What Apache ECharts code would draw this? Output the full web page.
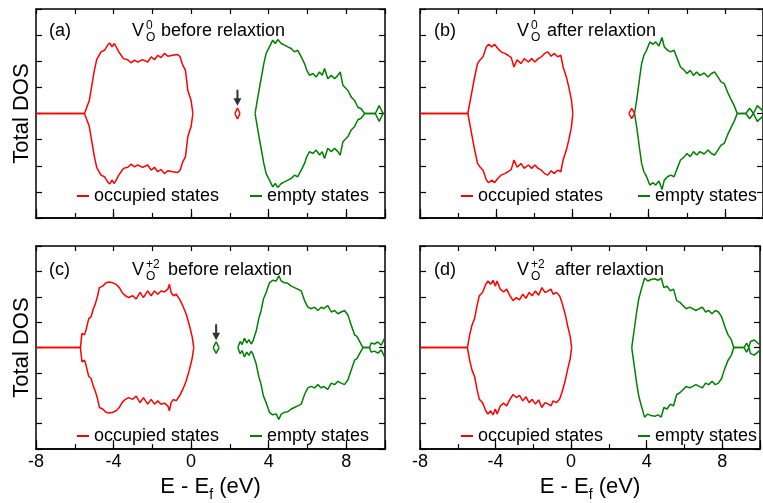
<!DOCTYPE html>
<html>
<head>
<meta charset="utf-8">
<script src="https://cdn.jsdelivr.net/npm/echarts@6/dist/echarts.min.js"></script>
<style>
html, body { margin: 0; padding: 0; background: #fff; }
#main { width: 763px; height: 503px; }
</style>
</head>
<body>
<div id="main"></div>
<script>
// energies (eV) and DOS; spin-down is drawn as the mirror of spin-up
var occA_E = [-8, -5.5, -5.25, -4.99, -4.87, -4.65, -4.47, -4.3, -4.2, -4.08, -3.96, -3.87, -3.73, -3.61, -3.49, -3.27, -3.1, -2.92, -2.75, -2.5, -2.24, -2.06, -1.89, -1.72, -1.55, -1.38, -1.2, -0.95, -0.69, -0.57, -0.43, -0.29, -0.17, -0.09, 0.0, 0.09];
var occA_D = [0, 0, 0.5, 1.65, 2.06, 2.36, 2.42, 2.62, 2.7, 2.55, 2.68, 2.74, 2.36, 2.23, 2.1, 2.06, 1.94, 2.04, 1.97, 2.06, 1.97, 2.17, 2.06, 2.23, 2.14, 2.3, 2.19, 2.23, 2.26, 2.17, 1.85, 1.65, 0.88, 0.82, 0.5, 0];
var empA_E = [3.3, 3.44, 3.61, 3.75, 3.87, 4.04, 4.21, 4.34, 4.47, 4.65, 4.82, 4.99, 5.16, 5.33, 5.5, 5.68, 5.85, 5.97, 6.11, 6.28, 6.45, 6.62, 6.76, 6.88, 7.05, 7.23, 7.4, 7.57, 7.69, 7.83, 8.09, 8.26, 8.43, 8.6, 8.77, 8.95, 9.5, 9.7, 9.9, 10];
var empA_D = [0, 0.63, 1.33, 1.91, 2.3, 2.55, 2.81, 2.68, 2.83, 2.68, 2.62, 2.55, 2.49, 2.36, 2.42, 2.17, 1.91, 1.65, 1.46, 1.53, 1.4, 1.59, 1.46, 1.72, 1.33, 1.46, 1.33, 1.46, 1.59, 1.08, 0.88, 0.63, 0.5, 0.24, 0.18, 0, 0, 0.3, 0, 0];
var gapA_E = [2.26, 2.39, 2.52];
var gapA_D = [0, 0.21, 0];

var occB_E = [-8, -5.49, -5.28, -5.15, -4.98, -4.86, -4.69, -4.52, -4.4, -4.23, -4.09, -3.92, -3.75, -3.55, -3.38, -3.21, -3.07, -2.9, -2.7, -2.53, -2.31, -2.14, -1.97, -1.8, -1.63, -1.46, -1.29, -1.12, -0.95, -0.78, -0.61, -0.49, -0.32, -0.19, -0.05, 0.02];
var occB_D = [0, 0, 0.82, 1.33, 1.91, 2.04, 2.17, 2.55, 2.65, 2.55, 2.65, 2.49, 2.36, 2.3, 2.23, 2.14, 1.78, 2.06, 1.91, 2.1, 1.97, 2.1, 1.97, 2.1, 2.17, 2.3, 2.36, 2.19, 2.3, 2.17, 2.23, 1.78, 1.4, 1.01, 0.5, 0];
var empB_E = [3.26, 3.38, 3.52, 3.63, 3.75, 3.89, 4.06, 4.23, 4.37, 4.54, 4.7, 4.82, 4.99, 5.16, 5.33, 5.5, 5.67, 5.84, 6.01, 6.18, 6.35, 6.52, 6.69, 6.91, 7.12, 7.29, 7.46, 7.63, 7.8, 7.97, 8.14, 8.31, 8.48, 8.65, 9.1, 9.3, 9.5, 9.7, 10];
var empB_D = [0, 0.56, 1.33, 1.91, 2.23, 2.42, 2.74, 2.65, 2.74, 2.58, 2.91, 2.55, 2.42, 2.36, 2.42, 2.1, 1.78, 1.68, 1.53, 1.65, 1.46, 1.59, 1.46, 1.55, 1.4, 1.53, 1.59, 1.4, 1.21, 1.14, 0.82, 0.56, 0.31, 0, 0, 0.2, 0, 0.3, 0.1];
var gapB_E = [2.96, 3.11, 3.26];
var gapB_D = [0, 0.2, 0];

var occC_E = [-8, -5.71, -5.63, -5.5, -5.42, -5.28, -5.16, -5.04, -4.94, -4.82, -4.73, -4.56, -4.39, -4.22, -4.04, -3.87, -3.7, -3.56, -3.39, -3.22, -3.01, -2.84, -2.63, -2.46, -2.24, -2.06, -1.89, -1.72, -1.55, -1.38, -1.2, -1.12, -1.03, -0.91, -0.77, -0.6, -0.43, -0.26, -0.09, 0.05, 0.14];
var occC_D = [0, 0, 0.56, 0.5, 0.69, 1.14, 1.21, 1.53, 1.72, 2.04, 2.36, 2.42, 2.55, 2.58, 2.55, 2.49, 2.36, 2.17, 2.04, 1.97, 2.04, 1.91, 2.17, 1.97, 2.23, 2.04, 2.23, 2.1, 2.23, 2.19, 2.3, 2.49, 2.17, 2.04, 2.1, 1.91, 1.65, 1.33, 0.88, 0.44, 0];
var empC_E = [2.41, 2.53, 2.63, 2.75, 2.87, 2.98, 3.1, 3.18, 3.35, 3.49, 3.61, 3.73, 3.87, 4.04, 4.21, 4.39, 4.52, 4.65, 4.82, 4.99, 5.16, 5.33, 5.5, 5.68, 5.85, 6.02, 6.19, 6.37, 6.54, 6.71, 6.83, 7.05, 7.23, 7.4, 7.57, 7.74, 7.91, 8.09, 8.26, 8.43, 8.55, 8.69, 8.86, 9.2, 9.29, 9.46, 9.63, 9.81, 9.98];
var empC_D = [0, 0.24, 0.12, 0.37, 0.18, 0.31, 0.14, 0.24, 0.63, 1.14, 1.46, 1.91, 2.17, 2.55, 2.65, 2.62, 2.83, 2.62, 2.55, 2.53, 2.42, 2.36, 2.3, 2.23, 1.85, 1.59, 1.53, 1.59, 1.46, 1.59, 1.53, 1.65, 1.4, 1.46, 1.33, 1.4, 1.46, 1.27, 0.88, 0.5, 0.44, 0.24, 0, 0, 0.18, 0.14, 0.22, 0.09, 0.37];
var gapC_E = [1.14, 1.29, 1.44];
var gapC_D = [0, 0.23, 0];

var occD_E = [-8, -5.49, -5.37, -5.25, -5.11, -4.98, -4.86, -4.69, -4.52, -4.4, -4.26, -4.13, -4.01, -3.92, -3.75, -3.58, -3.41, -3.24, -3.07, -2.9, -2.73, -2.56, -2.39, -2.22, -2.06, -1.89, -1.72, -1.55, -1.38, -1.21, -1.07, -0.95, -0.78, -0.61, -0.49, -0.32, -0.19, -0.05, 0.03];
var occD_D = [0, 0, 0.5, 0.88, 1.14, 1.65, 2.04, 2.17, 2.49, 2.62, 2.49, 2.65, 2.42, 2.62, 2.3, 2.19, 2.3, 2.04, 1.85, 1.97, 1.88, 2.1, 1.94, 2.17, 2.04, 2.23, 2.06, 2.36, 2.17, 2.23, 2.3, 2.1, 2.17, 2.04, 1.78, 1.33, 0.88, 0.44, 0];
var empD_E = [3.21, 3.35, 3.47, 3.58, 3.72, 3.89, 4.06, 4.23, 4.43, 4.6, 4.77, 4.91, 5.08, 5.25, 5.42, 5.59, 5.76, 5.93, 6.1, 6.27, 6.44, 6.61, 6.78, 6.95, 7.12, 7.29, 7.46, 7.63, 7.8, 7.97, 8.14, 8.31, 8.48, 8.61, 9.16, 9.29, 9.41, 9.5, 9.7, 10];
var empD_D = [0, 0.76, 1.4, 1.91, 2.3, 2.74, 2.62, 2.68, 2.71, 2.65, 2.74, 2.36, 2.42, 2.23, 2.3, 1.85, 1.78, 1.65, 1.53, 1.59, 1.53, 1.46, 1.53, 1.59, 1.4, 1.46, 1.33, 1.46, 1.4, 1.21, 0.82, 0.5, 0.31, 0, 0, 0.18, 0, 0.24, 0.3, 0.1];

// arrows marking the gap states: [energy, DOS]
var arrowA = [[2.39, 0.6]];
var arrowC = [[1.29, 0.6]];

var xTicks = [-8, -4, 0, 4, 8];

var RED = '#ff0000', GREEN = '#008000';
var FONT = 'Liberation Sans, Arial, Helvetica, sans-serif';

var grids = [
    { left: 36, top: 9, width: 349, height: 209 },
    { left: 420, top: 9, width: 353, height: 209 },
    { left: 36, top: 246, width: 349, height: 209 },
    { left: 420, top: 246, width: 353, height: 209 }
];

function pairs(E, D, sign) {
    return E.map(function (e, i) { return [e, sign * D[i]]; });
}

var axisLine = { show: true, onZero: false, lineStyle: { color: '#000', width: 1.5 } };

var xAxes = [], yAxes = [];
grids.forEach(function (g, i) {
    var bottomRow = i >= 2;
    // minor ticks every 2 eV along the bottom
    xAxes.push({ gridIndex: i, type: 'value', min: -8, max: 10, interval: 2, position: 'bottom',
        axisLine: axisLine, axisTick: { inside: true, length: 5, lineStyle: { color: '#000', width: 1.2 } },
        axisLabel: { show: false }, splitLine: { show: false } });
    // major ticks + labels every 4 eV
    xAxes.push({ gridIndex: i, type: 'value', min: -8, max: 10, interval: 4, position: 'bottom',
        axisLine: axisLine, axisTick: { inside: true, length: 9, lineStyle: { color: '#000', width: 1.2 } },
        axisLabel: { show: bottomRow, fontSize: 18, color: '#000', fontFamily: FONT, margin: 4,
            formatter: function (v) { return xTicks.indexOf(v) >= 0 ? String(v) : ''; } },
        splitLine: { show: false },
        name: bottomRow ? 'E - E{sub|f} (eV)' : '', nameLocation: 'middle', nameGap: 13,
        nameTextStyle: { fontSize: 22, color: '#000', fontFamily: FONT, lineHeight: 30,
            rich: { sub: { fontSize: 14, lineHeight: 14, verticalAlign: 'bottom', color: '#000', fontFamily: FONT } } } });
    // top frame
    xAxes.push({ gridIndex: i, type: 'value', min: -8, max: 10, interval: 2, position: 'top',
        axisLine: axisLine, axisTick: { inside: true, length: 5, lineStyle: { color: '#000', width: 1.2 } },
        axisLabel: { show: false }, splitLine: { show: false } });

    var leftCol = i % 2 === 0;
    yAxes.push({ gridIndex: i, type: 'value', min: -4, max: 4, interval: 1, position: 'left',
        axisLine: axisLine, axisTick: { inside: true, length: 6, lineStyle: { color: '#000', width: 1.2 } },
        axisLabel: { show: false }, splitLine: { show: false },
        name: leftCol ? 'Total DOS' : '', nameLocation: 'middle', nameGap: 3,
        nameTextStyle: { fontSize: 22, color: '#000', fontFamily: FONT } });
    yAxes.push({ gridIndex: i, type: 'value', min: -4, max: 4, interval: 1, position: 'right',
        axisLine: axisLine, axisTick: { inside: true, length: 6, lineStyle: { color: '#000', width: 1.2 } },
        axisLabel: { show: false }, splitLine: { show: false } });
});

var series = [];
function addBand(i, name, E, D, color) {
    [1, -1].forEach(function (s) {
        series.push({ name: name, type: 'line', xAxisIndex: i * 3, yAxisIndex: i * 2,
            data: pairs(E, D, s), showSymbol: false, symbol: 'none',
            lineStyle: { color: color, width: 1.5 }, itemStyle: { color: color } });
    });
}
function addArrow(i, data) {
    series.push({ name: 'gap state', type: 'scatter', xAxisIndex: i * 3, yAxisIndex: i * 2,
        data: data, symbol: 'path://M2.6,0 L4.4,0 L4.4,8 L7,8 L3.5,15 L0,8 L2.6,8 Z',
        symbolSize: [8, 16], itemStyle: { color: '#000' } });
}

addBand(0, 'occupied states', occA_E, occA_D, RED);
addBand(0, 'empty states', empA_E, empA_D, GREEN);
addBand(0, 'gap state', gapA_E, gapA_D, RED);
addArrow(0, arrowA);

addBand(1, 'occupied states', occB_E, occB_D, RED);
addBand(1, 'empty states', empB_E, empB_D, GREEN);
addBand(1, 'gap state', gapB_E, gapB_D, RED);

addBand(2, 'occupied states', occC_E, occC_D, RED);
addBand(2, 'empty states', empC_E, empC_D, GREEN);
addBand(2, 'gap state', gapC_E, gapC_D, GREEN);
addArrow(2, arrowC);

addBand(3, 'occupied states', occD_E, occD_D, RED);
addBand(3, 'empty states', empD_E, empD_D, GREEN);

// one legend entry per box: [left, top, series name, colour]
var legendPos = [
    [77, 187, 'occupied states', RED], [250, 187, 'empty states', GREEN],
    [461, 187, 'occupied states', RED], [638, 187, 'empty states', GREEN],
    [77, 427, 'occupied states', RED], [250, 427, 'empty states', GREEN],
    [461, 427, 'occupied states', RED], [638, 427, 'empty states', GREEN]
];
var legends = legendPos.map(function (p) {
    return { left: p[0], top: p[1], itemWidth: 12, itemHeight: 2, icon: 'rect', itemGap: 0,
        selectedMode: false, padding: 0, width: 200,
        data: [{ name: p[2], itemStyle: { color: p[3] } }],
        textStyle: { fontSize: 18, color: '#000', fontFamily: FONT } };
});

// panel titles: [x of letter, x of V, x of super/subscript, x of text, y, letter, superscript, text]
var titles = [
    [49, 132, 146, 161, 31, '(a)', '0', 'before relaxtion'],
    [434, 517, 531, 547, 31, '(b)', '0', 'after relaxtion'],
    [49, 132, 146, 168, 270, '(c)', '+2', 'before relaxtion'],
    [434, 517, 531, 555, 270, '(d)', '+2', 'after relaxtion']
];
var graphic = [];
titles.forEach(function (t) {
    var base = { fill: '#000', fontFamily: FONT, verticalAlign: 'middle', align: 'left' };
    graphic.push({ type: 'text', x: t[0], y: t[4], style: Object.assign({ text: t[5], fontSize: 18 }, base) });
    graphic.push({ type: 'text', x: t[1], y: t[4], style: Object.assign({ text: 'V', fontSize: 18 }, base) });
    graphic.push({ type: 'text', x: t[2], y: t[4] - 5, style: Object.assign({ text: t[6], fontSize: 12 }, base) });
    graphic.push({ type: 'text', x: t[2], y: t[4] + 7, style: Object.assign({ text: 'O', fontSize: 12 }, base) });
    graphic.push({ type: 'text', x: t[3], y: t[4], style: Object.assign({ text: t[7], fontSize: 18 }, base) });
});

var chart = echarts.init(document.getElementById('main'));
chart.setOption({
    animation: false,
    textStyle: { fontFamily: FONT },
    grid: grids,
    xAxis: xAxes,
    yAxis: yAxes,
    legend: legends,
    graphic: graphic,
    series: series
});
</script>
</body>
</html>
